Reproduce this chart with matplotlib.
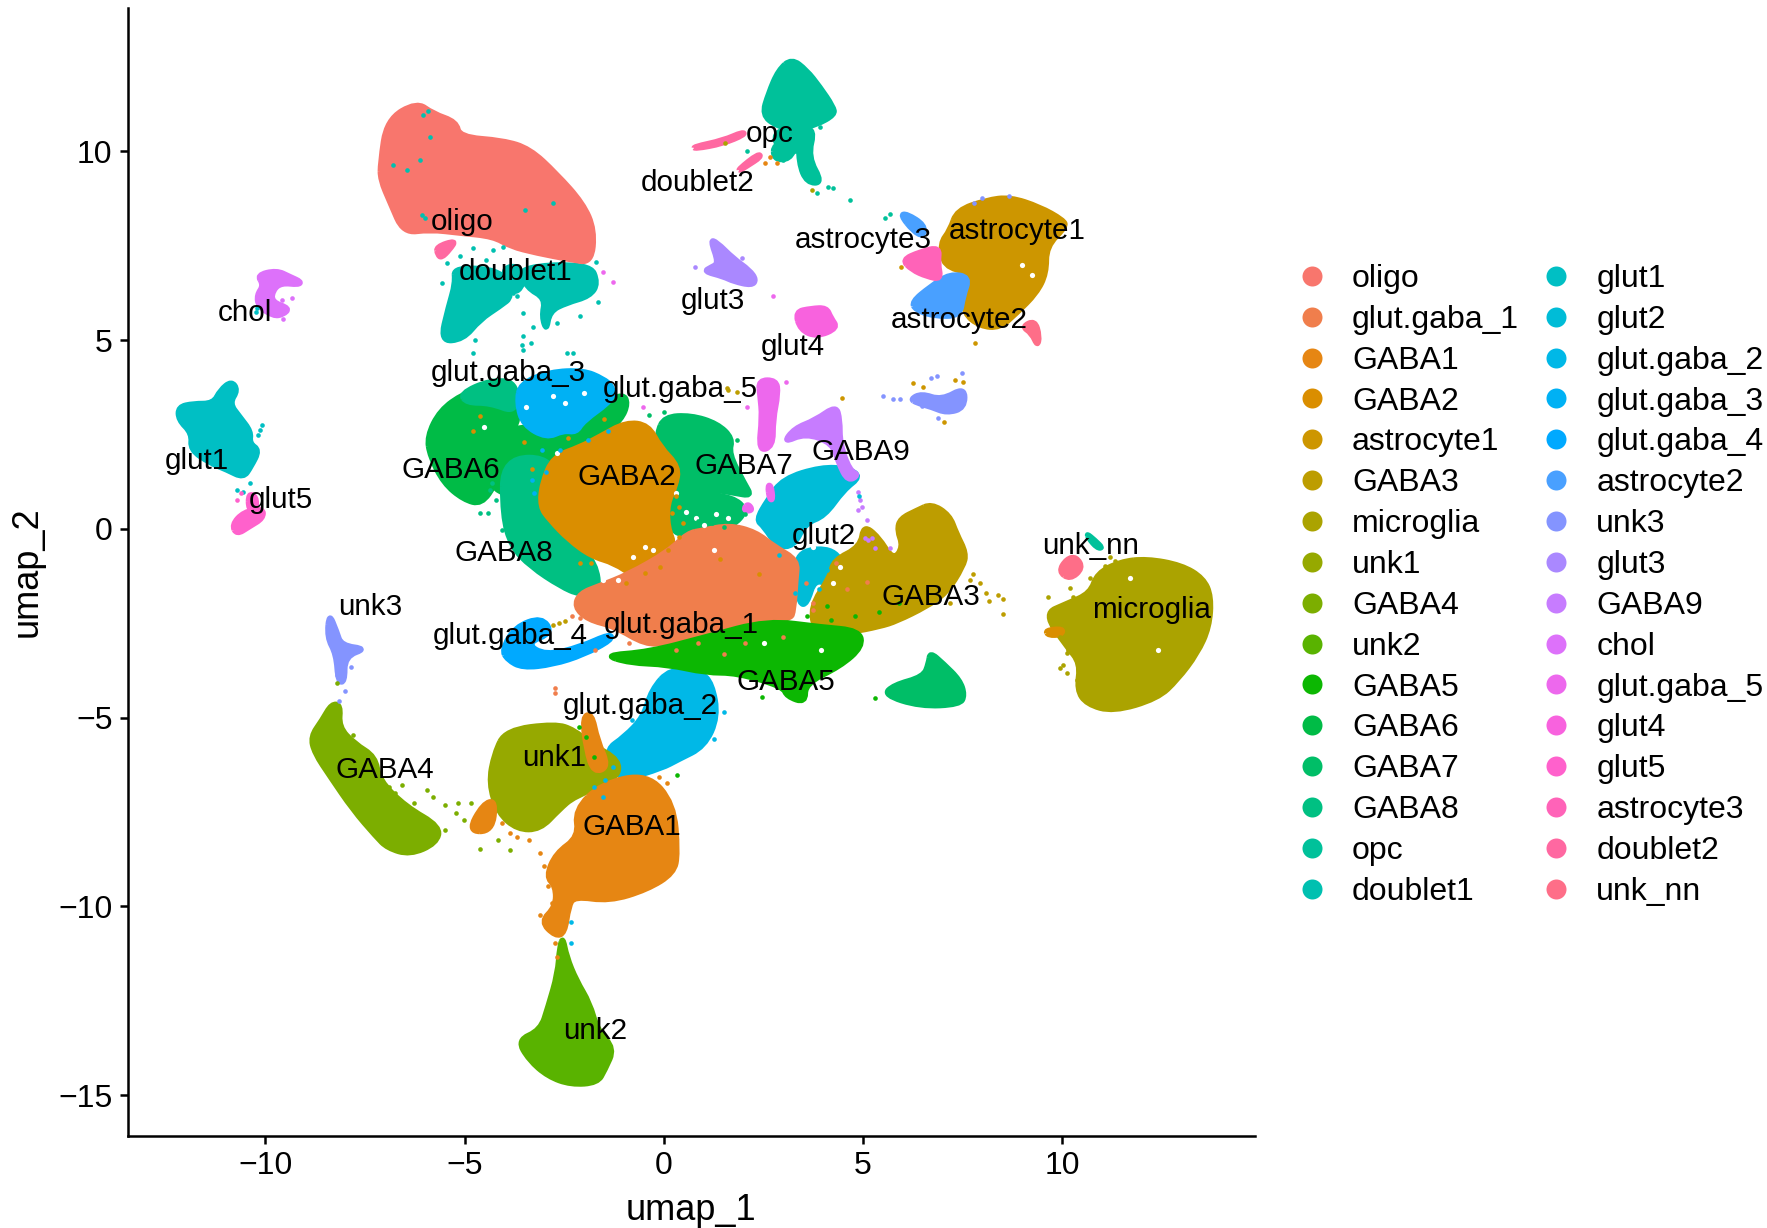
from matplotlib import pyplot as plt
from matplotlib.lines import Line2D
from matplotlib.path import Path
from matplotlib.patches import PathPatch
import math

plt.rcParams['font.family'] = ['Liberation Sans', 'DejaVu Sans']

clusters = ['oligo', 'glut.gaba_1', 'GABA1', 'GABA2', 'astrocyte1', 'GABA3', 'microglia', 'unk1',
            'GABA4', 'unk2', 'GABA5', 'GABA6', 'GABA7', 'GABA8', 'opc', 'doublet1',
            'glut1', 'glut2', 'glut.gaba_2', 'glut.gaba_3', 'glut.gaba_4', 'astrocyte2', 'unk3', 'glut3',
            'GABA9', 'chol', 'glut.gaba_5', 'glut4', 'glut5', 'astrocyte3', 'doublet2', 'unk_nn']

# outlines of the dense clouds in umap units
oligo_main = [(-7.12, 9.69), (-6.96, 10.84), (-6.20, 11.32), (-5.79, 11.01), (-5.20, 10.79), (-5.12, 10.39),
              (-4.03, 10.30), (-3.36, 10.08), (-2.69, 9.42), (-2.02, 8.63), (-1.73, 7.92), (-1.81, 7.04),
              (-2.35, 7.13), (-3.19, 7.30), (-3.86, 7.48), (-4.28, 7.74), (-5.12, 7.83), (-5.87, 7.92),
              (-6.54, 7.83), (-6.87, 8.63), (-7.12, 9.25)]
doublet1_left = [(-5.28, 6.95), (-4.03, 6.86), (-3.78, 6.16), (-4.11, 5.89), (-4.61, 5.54), (-5.03, 5.01),
                 (-5.62, 4.96), (-5.41, 5.89), (-5.24, 6.51)]
doublet1_right = [(-3.69, 6.95), (-1.85, 7.04), (-1.64, 6.51), (-1.85, 6.16), (-2.44, 5.98), (-2.86, 5.76),
                  (-2.94, 5.23), (-3.07, 5.62), (-2.98, 6.11), (-3.44, 6.38)]
doublet1_join = [(-4.10, 6.90), (-3.60, 7.00), (-3.50, 6.45), (-3.80, 6.20)]
opc_main = [(3.21, 12.47), (3.59, 12.16), (3.92, 11.72), (4.26, 11.19), (4.30, 10.97), (3.84, 10.70),
            (3.34, 10.57), (2.83, 10.66), (2.46, 10.97), (2.62, 11.54), (2.87, 12.16)]
opc_join = [(2.75, 10.60), (3.80, 10.60), (3.60, 10.00), (2.85, 10.00)]
opc_right_leg = [(3.38, 10.60), (3.80, 10.60), (3.63, 9.86), (4.00, 9.16), (3.59, 9.16), (3.38, 9.69)]
opc_left_leg = [(2.75, 10.22), (3.34, 10.22), (3.17, 9.78), (2.75, 9.78)]
opc_small = [(10.61, -0.11), (10.82, -0.29), (11.03, -0.51), (10.87, -0.51), (10.66, -0.25)]
doublet2_strip = [(0.74, 10.13), (1.49, 10.30), (1.99, 10.53), (2.04, 10.44), (1.49, 10.20), (0.78, 10.06)]
doublet2_low = [(1.87, 9.53), (2.37, 9.95), (2.46, 9.86), (2.08, 9.60), (1.91, 9.49)]
doublet2_oligo = [(-5.72, 7.48), (-5.20, 7.66), (-5.37, 7.39), (-5.58, 7.17), (-5.68, 7.26)]
glut3_main = [(1.16, 7.66), (1.33, 7.61), (1.75, 7.17), (2.16, 6.86), (2.33, 6.60), (2.21, 6.44), (1.75, 6.55),
              (1.49, 6.68), (0.99, 6.82), (1.20, 6.95), (1.37, 7.04)]
glut4_main = [(3.29, 5.76), (3.70, 5.85), (4.09, 5.87), (4.20, 5.60), (4.38, 5.32), (3.84, 5.08), (3.42, 5.27)]
gg5_strip = [(2.37, 3.95), (2.83, 3.95), (2.88, 3.59), (2.75, 2.89), (2.75, 2.18), (2.37, 2.05), (2.46, 2.98),
             (2.41, 3.51)]
gg5_thin = [(2.60, 1.16), (2.70, 1.16), (2.75, 0.77), (2.65, 0.77)]
gg5_dot = [(2.12, 0.68), (2.24, 0.50), (2.07, 0.46), (2.00, 0.55)]
gaba9_main = [(4.33, 3.28), (4.43, 2.89), (4.43, 2.27), (4.67, 1.56), (4.91, 1.43), (4.62, 1.25), (4.38, 1.74),
              (4.23, 2.27), (3.56, 2.53), (2.99, 2.27), (3.27, 2.67), (3.80, 2.89)]
gg3_main = [(-3.61, 3.86), (-2.86, 4.17), (-2.02, 4.21), (-1.52, 3.99), (-1.27, 3.77), (-1.27, 3.42),
            (-2.02, 2.85), (-2.19, 2.55), (-2.52, 2.60), (-2.94, 2.40), (-3.53, 2.75), (-3.69, 3.33)]
gaba6_main = [(-5.95, 2.45), (-5.62, 3.15), (-5.03, 3.59), (-4.36, 3.86), (-3.69, 3.86), (-3.61, 2.89),
              (-3.94, 2.36), (-4.11, 1.65), (-4.20, 1.21), (-4.57, 0.64), (-5.03, 0.77), (-5.53, 1.21),
              (-5.87, 1.92)]
gaba6_arm = [(-1.02, 3.59), (-0.89, 3.33), (-1.06, 2.89), (-1.52, 2.50), (-2.10, 2.20), (-2.02, 2.89),
             (-1.52, 3.33)]
gaba6_band = [(-3.94, 2.71), (-2.69, 2.71), (-2.02, 2.71), (-2.00, 1.90), (-3.02, 1.70), (-3.94, 2.00)]
gaba6_lower = [(-4.50, 2.10), (-3.30, 2.00), (-3.40, 1.00), (-4.30, 0.90)]
gaba8_top = [(-5.12, 3.59), (-4.36, 3.95), (-3.69, 3.90), (-3.69, 3.06), (-4.36, 3.33), (-4.95, 3.33)]
gaba8_main = [(-4.05, 1.90), (-2.70, 1.90), (-2.60, 0.40), (-2.20, -0.40), (-1.70, -0.90), (-1.60, -1.70),
              (-2.11, -1.75), (-2.59, -1.53), (-3.35, -1.00), (-3.83, -0.47), (-4.05, 0.35)]
gaba7_upper = [(0.01, 2.98), (0.68, 3.02), (1.35, 2.80), (1.74, 2.40), (1.64, 2.00), (2.03, 1.21), (2.22, 0.86),
               (1.74, 0.95), (1.26, 1.03), (0.87, 0.77), (0.10, 0.40), (0.10, 1.10), (0.20, 1.80), (-0.09, 2.18),
               (-0.18, 2.53)]
gaba7_lower = [(0.05, 0.70), (0.87, 0.95), (1.74, 0.85), (2.10, 0.50), (1.74, 0.06), (1.06, -0.10), (0.20, -0.20)]
gaba7_island = [(6.68, -3.25), (7.02, -3.56), (7.44, -4.00), (7.56, -4.40), (7.44, -4.66), (6.43, -4.71),
                (5.51, -4.40), (5.76, -4.13), (6.51, -3.91), (6.64, -3.56)]
gaba2_main = [(-0.95, 2.84), (-0.38, 2.76), (-0.09, 2.18), (0.39, 1.65), (0.30, 1.12), (0.10, 0.68), (0.10, 0.06),
              (0.30, -0.47), (-0.28, -0.91), (-0.76, -1.26), (-1.24, -0.91), (-1.82, -0.73), (-2.39, -0.29),
              (-2.87, 0.24), (-3.11, 0.59), (-3.06, 1.21), (-2.78, 1.92), (-2.10, 2.18), (-1.62, 2.45)]
gaba2_microglia = [(9.57, -2.68), (10.03, -2.63), (9.99, -2.81), (9.65, -2.83)]
gg1_main = [(0.97, -0.03), (1.64, 0.11), (2.31, -0.07), (2.79, -0.47), (3.37, -0.82), (3.32, -1.35),
            (3.27, -2.15), (3.18, -2.41), (2.03, -2.50), (1.06, -2.76), (0.10, -3.03), (-0.47, -3.07),
            (-1.24, -2.59), (-1.91, -2.41), (-2.25, -2.06), (-2.11, -1.70), (-1.62, -1.50), (-0.90, -1.20),
            (0.10, -0.60), (0.60, -0.10)]
glut2_upper = [(2.99, 1.34), (3.95, 1.65), (4.62, 1.61), (4.96, 1.39), (4.52, 1.03), (4.04, 0.33), (3.56, 0.15),
               (3.27, -0.47), (2.84, -0.47), (2.51, 0.06), (2.31, 0.24), (2.60, 0.77)]
glut2_lower = [(3.37, -0.56), (4.30, -0.50), (4.60, -1.20), (4.30, -1.60), (3.80, -1.30), (3.60, -2.00),
               (3.40, -2.00), (3.30, -1.30)]
gaba3_main = [(6.72, 0.68), (7.18, 0.37), (7.35, -0.11), (7.60, -0.64), (7.52, -1.00), (7.10, -1.70), (6.60, -2.06),
              (5.85, -2.45), (5.43, -2.59), (4.67, -2.75), (3.80, -2.75), (3.67, -2.06), (4.17, -1.26),
              (4.26, -0.82), (4.93, -0.47), (5.01, 0.11), (5.39, -0.20), (5.76, -0.82), (6.00, -0.47),
              (5.85, -0.03), (5.93, 0.28), (6.35, 0.50)]
gaba5_main = [(-1.53, -3.34), (-0.38, -3.25), (1.06, -2.85), (2.60, -2.41), (3.95, -2.59), (4.91, -2.68),
              (5.00, -3.12), (4.43, -3.65), (3.56, -4.09), (3.56, -4.62), (3.08, -4.44), (2.99, -4.18),
              (1.83, -3.82), (1.06, -3.82), (0.10, -3.60), (-0.86, -3.56)]
gg4_main = [(-4.07, -3.20), (-3.74, -2.59), (-3.06, -2.32), (-2.78, -2.76), (-3.45, -3.03), (-2.97, -3.34),
            (-2.10, -3.12), (-1.34, -2.76), (-1.29, -2.94), (-2.01, -3.34), (-2.78, -3.60), (-3.55, -3.69),
            (-3.93, -3.47)]
gg2_main = [(0.16, -3.69), (0.93, -3.78), (1.22, -4.09), (1.37, -4.97), (1.03, -5.77), (0.36, -6.12),
            (-0.03, -6.34), (-0.99, -6.65), (-1.18, -6.47), (-1.47, -5.85), (-0.99, -5.50), (-0.51, -4.97),
            (-0.32, -4.26)]
unk1_main = [(-3.97, -5.32), (-2.72, -5.15), (-2.24, -5.32), (-1.85, -5.68), (-1.09, -6.12), (-1.18, -6.65),
             (-2.24, -7.09), (-2.62, -7.44), (-3.10, -7.97), (-3.68, -7.97), (-4.16, -7.53), (-4.40, -6.74),
             (-4.26, -5.94)]
gaba1_main = [(-1.57, -6.74), (-0.41, -6.47), (0.26, -7.27), (0.36, -8.59), (0.26, -9.12), (-0.41, -9.56),
              (-1.37, -9.87), (-2.24, -9.74), (-2.38, -10.00), (-2.48, -10.71), (-2.72, -10.80), (-3.10, -10.40),
              (-2.72, -10.00), (-2.72, -9.47), (-2.96, -9.21), (-2.72, -8.59), (-2.14, -8.15), (-2.24, -7.44)]
gaba1_branch = [(-4.93, -8.02), (-4.54, -7.27), (-4.21, -7.18), (-4.30, -8.02)]
gaba1_top = [(-2.05, -4.97), (-1.80, -4.88), (-1.66, -5.59), (-1.37, -6.30), (-1.76, -6.47), (-1.95, -5.85)]
gaba4_main = [(-8.34, -4.62), (-8.10, -4.66), (-8.15, -5.24), (-7.76, -5.68), (-7.23, -6.03), (-7.14, -6.65),
              (-6.47, -7.35), (-5.60, -7.88), (-5.70, -8.33), (-6.37, -8.64), (-6.94, -8.46), (-7.23, -8.15),
              (-7.81, -7.44), (-8.38, -6.56), (-8.77, -5.94), (-8.87, -5.50), (-8.58, -5.06)]
unk2_main = [(-2.53, -10.80), (-2.43, -11.33), (-2.19, -11.95), (-1.85, -12.56), (-1.66, -13.27), (-1.23, -13.76),
             (-1.47, -14.33), (-1.66, -14.68), (-2.33, -14.73), (-2.91, -14.51), (-3.39, -14.07), (-3.68, -13.54),
             (-3.10, -13.27), (-2.91, -12.65), (-2.67, -11.77), (-2.62, -11.06)]
unk3_tail = [(-8.40, -2.21), (-8.20, -2.72), (-8.09, -3.08), (-7.44, -3.17), (-8.00, -3.38), (-8.00, -4.06),
             (-8.18, -4.06), (-8.23, -3.32), (-8.46, -2.87)]
unk3_island = [(6.18, 3.44), (6.47, 3.60), (6.97, 3.42), (7.56, 3.77), (7.56, 3.20), (7.10, 3.06), (6.72, 3.22),
               (6.35, 3.33)]
astro1_main = [(7.35, 8.45), (8.10, 8.72), (8.69, 8.80), (9.44, 8.54), (10.03, 8.19), (10.11, 8.01), (9.61, 7.48),
               (9.61, 6.77), (9.36, 6.24), (8.86, 5.71), (8.44, 5.32), (7.94, 5.36), (7.52, 5.71), (7.52, 6.33),
               (7.69, 6.77), (7.02, 6.95), (6.93, 7.57), (7.18, 7.92)]
astro2_main = [(6.22, 6.02), (6.68, 6.42), (7.18, 6.77), (7.69, 6.68), (7.52, 6.16), (7.44, 5.63), (6.77, 5.63),
               (6.31, 5.80)]
astro2_top = [(5.93, 8.32), (6.10, 8.36), (6.56, 8.05), (6.52, 7.74), (6.26, 7.88)]
astro3_main = [(5.97, 7.13), (6.43, 7.35), (6.93, 7.48), (6.89, 7.04), (6.97, 6.60), (6.60, 6.68), (6.22, 6.86)]
unknn_astro = [(8.98, 5.36), (9.32, 5.54), (9.44, 5.10), (9.38, 4.83), (9.23, 5.18)]
unknn_main = [(9.90, -1.13), (10.11, -0.78), (10.36, -0.73), (10.53, -1.04), (10.20, -1.35)]
microglia_main = [(12.12, -0.78), (13.00, -0.95), (13.55, -1.30), (13.75, -1.79), (13.70, -2.60), (13.40, -3.30),
                  (12.90, -4.00), (12.40, -4.50), (11.28, -4.85), (10.61, -4.65), (10.36, -4.26), (10.45, -3.56),
                  (10.11, -3.12), (9.53, -2.24), (10.11, -1.97), (10.70, -1.70), (10.87, -1.17), (11.45, -0.86)]
chol_main = [(-10.22, 6.73), (-9.72, 6.86), (-9.38, 6.69), (-9.09, 6.55), (-9.17, 6.46), (-9.59, 6.51),
             (-9.80, 6.33), (-9.84, 6.02), (-9.38, 5.85), (-9.55, 5.67), (-9.80, 5.63), (-10.18, 5.89),
             (-10.22, 6.20), (-10.05, 6.46)]
glut1_main = [(-11.14, 3.68), (-10.85, 3.93), (-10.68, 3.68), (-10.89, 3.33), (-10.64, 2.98), (-10.35, 2.58),
              (-10.39, 2.27), (-10.14, 2.09), (-10.35, 1.65), (-10.55, 1.34), (-10.97, 1.56), (-11.39, 1.74),
              (-11.89, 2.09), (-11.85, 2.53), (-12.19, 2.89), (-12.19, 3.24), (-11.81, 3.33), (-11.31, 3.33)]
glut5_main = [(-10.85, 0.11), (-10.55, 0.46), (-10.05, 0.55), (-10.05, 0.28), (-10.39, 0.06), (-10.72, -0.16)]
glut5_top = [(-10.43, 0.95), (-10.22, 0.86), (-10.22, 0.50), (-10.43, 0.50)]

# loose cells around the clouds
doublet1_cells = [(-3.53, 5.71), (-3.57, 4.87), (-3.32, 4.92), (-3.28, 5.36), (-2.94, 5.45), (-3.69, 6.16),
                  (-3.36, 6.38), (-2.10, 5.63), (-1.69, 7.08), (-1.64, 6.02), (-2.69, 5.45), (-4.45, 7.13),
                  (-4.78, 7.44), (-5.12, 7.22), (-5.45, 7.04), (-5.57, 6.51), (-4.74, 5.01), (-4.78, 4.65),
                  (-3.53, 5.10), (-2.27, 4.65), (-2.44, 4.65), (-4.03, 7.48), (-4.28, 7.39), (-3.78, 6.24),
                  (-3.53, 4.74), (-6.04, 10.97), (-5.91, 11.06), (-6.45, 9.51), (-6.08, 8.32), (-5.99, 8.23),
                  (-6.79, 9.64), (-5.87, 10.39), (-6.12, 9.78), (-3.48, 8.45), (-2.77, 8.63)]
opc_cells = [(3.92, 10.66), (4.13, 9.07), (4.26, 9.03), (3.17, 10.04), (3.00, 9.78), (3.42, 10.13), (3.54, 10.57),
             (2.08, 10.00), (3.84, 8.91), (4.67, 8.72), (5.55, 8.23), (5.68, 8.35)]
gaba1_cells = [(2.66, 9.86), (2.83, 9.69), (2.54, 9.69), (-3.39, -8.24), (-3.10, -8.59), (-3.00, -8.94),
               (-2.91, -9.47), (-2.81, -9.92), (-3.10, -10.22), (-2.67, -11.33), (-2.72, -10.98), (-3.87, -8.06),
               (-4.06, -7.80), (-3.68, -8.15), (0.07, -6.74), (-0.13, -6.56), (0.26, -8.28)]
microglia_cells = [(3.71, 8.98), (1.54, 10.22), (9.65, -1.79), (9.95, -2.85), (10.11, -3.29), (9.95, -3.69),
                   (10.11, -3.82), (10.36, -4.00), (10.03, -3.60), (11.20, -0.73), (11.33, -0.86), (11.07, -0.98),
                   (10.28, -1.79), (10.70, -1.31), (10.20, -1.57), (10.15, -3.20)]
gaba8_cells = [(-4.41, 0.42), (-4.22, 0.77), (-4.60, 0.42), (-4.07, -0.03), (-3.74, -0.16), (-4.36, 1.03),
               (-4.03, 0.59), (-4.31, 1.21)]
gaba7_cells = [(-0.38, 3.02), (0.01, 3.11), (1.83, 2.36), (1.06, 0.33), (1.54, 0.50), (0.68, 0.33), (1.26, 0.59),
               (0.87, 0.20), (0.39, 0.20), (1.74, 0.30), (2.03, 0.40), (0.60, 0.05), (1.20, 0.15), (1.50, 0.05)]
gaba2_cells = [(0.10, -0.56), (-0.09, -1.00), (-0.47, -1.17), (-0.95, -1.44), (-1.82, -0.91), (-2.11, -0.91),
               (0.39, -0.20), (0.49, 0.15), (0.39, 0.59), (0.20, 0.42), (0.30, 0.86), (-3.30, 1.60), (-3.50, 2.30),
               (-4.80, 2.60), (-4.60, 3.00), (-1.50, 2.90), (-2.40, 2.40), (1.40, -0.80), (2.40, -1.20)]
gg1_cells = [(-2.73, -4.22), (-2.73, -4.35), (-0.86, -3.03), (-1.72, -3.20), (3.56, -1.44), (3.75, -1.97),
             (4.33, -0.91), (-2.30, -2.30), (-2.10, -2.35), (0.87, -3.03), (2.03, -3.03), (0.30, -3.20),
             (2.99, -2.85), (3.75, -2.15), (1.50, -3.30), (4.60, -1.60), (5.10, -1.40)]
gaba3_cells = [(7.69, -1.35), (7.77, -1.19), (7.94, -1.44), (8.10, -1.70), (8.40, -1.75), (8.52, -1.85),
               (8.17, -1.92), (8.52, -2.25), (7.18, -1.97), (1.58, 3.73), (1.83, 3.62), (1.62, 3.68),
               (-2.63, -2.50), (-2.49, -2.45), (-2.78, -2.54)]
astro1_cells = [(7.81, 4.92), (6.26, 3.86), (6.51, 3.77), (7.31, 3.95), (7.52, 3.90), (7.03, 2.84), (4.47, 3.46),
                (5.95, 6.93)]
gaba9_cells = [(4.88, 0.99), (4.93, 0.77), (4.97, 0.59), (4.88, 0.50), (5.09, 0.24), (5.13, -0.29), (5.30, -0.51),
               (5.68, -0.51), (5.22, -0.25), (5.05, -0.25)]
gg5_cells = [(2.75, 6.16), (3.08, 3.88), (2.08, 3.24), (-0.51, 3.24), (-1.52, 6.82), (-1.27, 6.55)]
gaba4_cells = [(-7.81, -5.46), (-8.10, -5.32), (-6.90, -6.83), (-6.56, -6.78), (-5.94, -6.91), (-5.79, -7.09),
               (-5.50, -7.31), (-5.17, -7.27), (-4.83, -7.25), (-5.22, -7.53), (-5.02, -7.71), (-5.50, -7.97),
               (-4.62, -8.49), (-4.16, -8.24), (-3.87, -8.50), (-8.19, -4.09), (-6.75, -7.00), (-6.27, -7.27)]
gaba5_cells = [(2.46, -4.44), (5.29, -4.49), (0.33, -6.53), (-1.76, -6.03), (-1.95, -5.50), (-2.14, -5.24),
               (4.20, -2.40), (4.80, -2.30), (5.40, -2.20), (3.60, -2.30), (5.90, -1.95), (4.10, -2.05)]
gg2_cells = [(1.51, -4.84), (1.27, -5.57), (-1.76, -6.83), (-1.52, -7.09), (-2.33, -10.98), (-2.33, -10.40),
             (-1.28, -6.30), (-1.47, -6.65), (-0.80, -5.06)]
gg3_cells = [(-3.06, 2.09), (-3.26, 0.95), (-3.30, 1.30), (-2.95, 1.50), (-2.60, 2.10), (-1.90, 2.35), (-1.40, 2.60)]
unk3_cells = [(-8.00, -4.28), (-8.19, -3.87), (-8.15, -4.57), (-7.86, -3.65), (6.85, 4.04), (6.72, 3.99),
              (7.48, 4.14), (5.51, 3.51), (5.76, 3.44), (5.93, 3.44), (7.98, 8.78), (8.67, 8.83), (7.79, 8.63),
              (6.89, 2.93), (6.47, 3.26)]
glut3_cells = [(0.78, 6.95), (1.96, 7.17)]
glut1_cells = [(-10.09, 2.76), (-10.14, 2.62), (-10.18, 2.49), (-10.72, 1.03), (-10.55, 0.99), (-10.39, 1.23),
               (-10.24, 5.76), (-10.20, 5.85)]
glut5_cells = [(-10.70, 0.77), (-10.60, 0.95)]
chol_cells = [(-9.34, 6.11), (-9.59, 6.07), (-9.55, 5.56)]
glut2_cells = [(4.91, 0.86), (3.90, -1.60), (4.10, -1.10), (3.30, -1.70), (2.90, -0.70)]

# holes where the cloud is thin
thin_spots = [(-0.47, -0.47), (-0.28, -0.56), (-0.76, -0.73), (-1.38, -1.17), (-1.14, -1.35), (-1.53, -1.35),
              (1.26, -0.56), (-2.68, 2.00), (0.30, 0.95), (4.04, -0.29), (3.75, -0.47), (4.43, -1.00),
              (4.24, -1.44), (-2.49, 3.33), (-2.78, 3.51), (-2.01, 3.59), (-4.51, 2.71), (-3.45, 3.24),
              (2.51, -3.03), (3.95, -3.20), (9.00, 7.00), (9.25, 6.72), (11.70, -1.30), (12.40, -3.20),
              (0.80, 0.30), (1.30, 0.40), (1.60, 0.30), (0.55, 0.45), (1.00, 0.10)]

# draw order matters, later clouds sit on top
blobs = [('GABA6', gaba6_main), ('GABA6', gaba6_arm), ('GABA6', gaba6_band), ('GABA6', gaba6_lower),
         ('GABA8', gaba8_top), ('GABA8', gaba8_main), ('glut.gaba_3', gg3_main), ('GABA7', gaba7_upper),
         ('GABA7', gaba7_lower), ('GABA2', gaba2_main), ('GABA7', gaba7_island), ('glut2', glut2_upper),
         ('glut2', glut2_lower), ('glut.gaba_1', gg1_main), ('GABA3', gaba3_main), ('glut.gaba_2', gg2_main),
         ('GABA5', gaba5_main), ('glut.gaba_4', gg4_main), ('GABA4', gaba4_main), ('unk1', unk1_main),
         ('GABA1', gaba1_main), ('GABA1', gaba1_branch), ('GABA1', gaba1_top), ('unk2', unk2_main),
         ('unk3', unk3_tail), ('unk3', unk3_island), ('doublet1', doublet1_left), ('doublet1', doublet1_right),
         ('doublet1', doublet1_join), ('oligo', oligo_main), ('opc', opc_main), ('opc', opc_join),
         ('opc', opc_right_leg), ('opc', opc_left_leg), ('opc', opc_small), ('doublet2', doublet2_strip),
         ('doublet2', doublet2_low), ('doublet2', doublet2_oligo), ('glut3', glut3_main), ('glut4', glut4_main),
         ('glut.gaba_5', gg5_strip), ('glut.gaba_5', gg5_thin), ('glut.gaba_5', gg5_dot), ('GABA9', gaba9_main),
         ('astrocyte1', astro1_main), ('astrocyte2', astro2_main), ('astrocyte2', astro2_top),
         ('astrocyte3', astro3_main), ('unk_nn', unknn_astro), ('unk_nn', unknn_main),
         ('microglia', microglia_main), ('GABA2', gaba2_microglia), ('chol', chol_main), ('glut1', glut1_main),
         ('glut5', glut5_main), ('glut5', glut5_top)]

loose = [('doublet1', doublet1_cells), ('opc', opc_cells), ('GABA1', gaba1_cells), ('microglia', microglia_cells),
         ('GABA8', gaba8_cells), ('GABA7', gaba7_cells), ('GABA2', gaba2_cells), ('glut.gaba_1', gg1_cells),
         ('GABA3', gaba3_cells), ('astrocyte1', astro1_cells), ('GABA9', gaba9_cells), ('glut.gaba_5', gg5_cells),
         ('GABA4', gaba4_cells), ('GABA5', gaba5_cells), ('glut.gaba_2', gg2_cells), ('glut.gaba_3', gg3_cells),
         ('unk3', unk3_cells), ('glut3', glut3_cells), ('glut1', glut1_cells), ('glut5', glut5_cells),
         ('chol', chol_cells), ('glut2', glut2_cells)]

# cluster name labels, placed at the cluster centres Seurat used
label_names = ['oligo', 'doublet1', 'opc', 'doublet2', 'astrocyte3', 'astrocyte1', 'glut3', 'chol', 'glut4',
               'astrocyte2', 'glut.gaba_3', 'glut.gaba_5', 'GABA9', 'GABA6', 'GABA2', 'GABA7', 'glut1', 'glut5',
               'GABA8', 'glut2', 'unk_nn', 'GABA3', 'microglia', 'unk3', 'glut.gaba_1', 'glut.gaba_4', 'GABA5',
               'glut.gaba_2', 'unk1', 'GABA4', 'GABA1', 'unk2']
label_x = [-5.06, -3.71, 2.66, 0.85, 5.01, 8.88, 1.24, -10.50, 3.25, 7.41, -3.90, 0.42, 4.95, -5.35, -0.93, 2.01,
           -11.71, -9.62, -4.02, 4.02, 10.72, 6.70, 12.25, -7.36, 0.45, -3.85, 3.06, -0.59, -2.74, -6.99, -0.79,
           -1.73]
label_y = [8.12, 6.81, 10.45, 9.17, 7.65, 7.89, 6.03, 5.73, 4.81, 5.53, 4.12, 3.70, 2.03, 1.55, 1.37, 1.67, 1.79,
           0.78, -0.63, -0.18, -0.45, -1.79, -2.15, -2.06, -2.54, -2.84, -4.06, -4.69, -6.06, -6.39, -7.89, -13.29]


def hue_color(h):
    # same as ggplot's hue_pal, hcl with c=100 l=65
    c, l = 100, 65
    u = c * math.cos(math.radians(h))
    v = c * math.sin(math.radians(h))
    Y = ((l + 16) / 116) ** 3
    up = u / (13 * l) + 0.1978398
    vp = v / (13 * l) + 0.4683363
    X = 9 * Y * up / (4 * vp)
    Z = -X / 3 - 5 * Y + 3 * Y / vp
    rgb = [3.240479 * X - 1.537150 * Y - 0.498535 * Z,
           -0.969256 * X + 1.875992 * Y + 0.041556 * Z,
           0.055648 * X - 0.204043 * Y + 1.057311 * Z]
    out = []
    for val in rgb:
        val = max(0, min(1, val))
        out.append(1.055 * val ** (1 / 2.4) - 0.055 if val > 0.0031308 else 12.92 * val)
    return tuple(out)


def round_path(outline):
    # quadratic curves with the outline points as controls, takes the corners off
    n = len(outline)
    mids = [((outline[i][0] + outline[(i + 1) % n][0]) / 2, (outline[i][1] + outline[(i + 1) % n][1]) / 2)
            for i in range(n)]
    verts = [mids[-1]]
    codes = [Path.MOVETO]
    for i in range(n):
        verts += [outline[i], mids[i]]
        codes += [Path.CURVE3, Path.CURVE3]
    return Path(verts, codes)


colors = {name: hue_color(15 + 360 * i / len(clusters)) for i, name in enumerate(clusters)}

fig = plt.figure(figsize=(17.67, 12.28), dpi=100)
ax = fig.add_axes([127.5 / 1767, 92 / 1228, 1127.5 / 1767, 1128 / 1228])

for name, outline in blobs:
    ax.add_patch(PathPatch(round_path(outline), facecolor=colors[name], edgecolor=colors[name], lw=3.6,
                           joinstyle='round'))

ax.scatter([p[0] for p in thin_spots], [p[1] for p in thin_spots], s=14, color='white', linewidths=0)

for name, cells in loose:
    ax.scatter([p[0] for p in cells], [p[1] for p in cells], s=11, color=colors[name], linewidths=0)

for name, x, y in zip(label_names, label_x, label_y):
    ax.text(x, y, name, fontsize=21.3, ha='center', va='center', color='black')

ax.set_xlim(-13.46, 14.84)
ax.set_ylim(-16.08, 13.80)
ax.set_xticks([-10, -5, 0, 5, 10])
ax.set_yticks([-15, -10, -5, 0, 5, 10])
ax.tick_params(labelsize=23, length=5.8, width=1.8, pad=5)
ax.set_xlabel('umap_1', fontsize=26, labelpad=8.5)
ax.set_ylabel('umap_2', fontsize=26, labelpad=9.5)
ax.spines['top'].set_visible(False)
ax.spines['right'].set_visible(False)
ax.spines['left'].set_linewidth(1.8)
ax.spines['bottom'].set_linewidth(1.8)

handles = [Line2D([], [], ls='', marker='o', ms=14.4, mew=0, color=colors[name], label=name) for name in clusters]
fig.legend(handles=handles, ncol=2, loc='upper left', bbox_to_anchor=(1296 / 1767, 1 - 264 / 1228), frameon=False,
           fontsize=23, borderpad=0, borderaxespad=0, handlelength=1, handletextpad=0.75, columnspacing=0.67,
           labelspacing=0.34)

fig.savefig('out.png', dpi=100)
